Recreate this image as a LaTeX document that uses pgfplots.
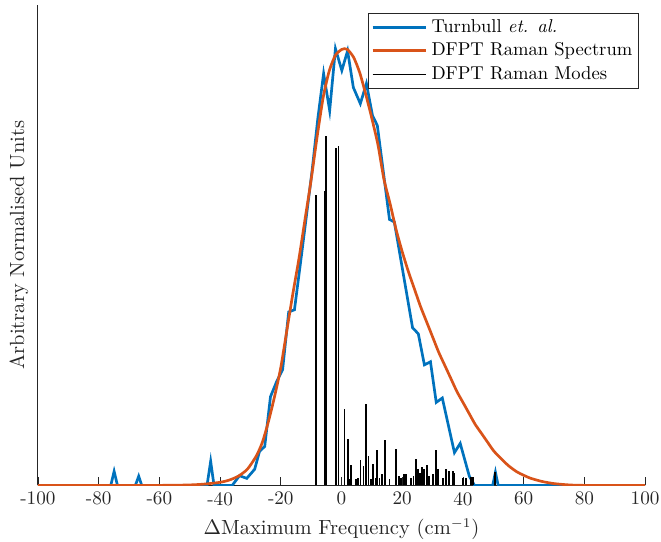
\documentclass[border=0pt]{standalone}
\usepackage{pgfplots}
\pgfplotsset{compat=1.18}
\definecolor{mblue}{rgb}{0,0.447,0.741}
\definecolor{morange}{rgb}{0.85,0.325,0.098}
\definecolor{axgray}{rgb}{0.15,0.15,0.15}
\begin{document}
\begin{tikzpicture}
\begin{axis}[
  at={(0pt,0pt)}, anchor=south west,
  scale only axis,
  width=317pt, height=250.8pt,
  xmin=-100, xmax=100, ymin=0, ymax=1.1,
  axis x line*=bottom, axis y line*=left,
  xtick={-100,-80,...,100}, ytick=\empty,
  xticklabels={-100,-80,-60,-40,-20,0,20,40,60,80,100},
  tick align=inside,
  axis line style={axgray, line width=0.5pt},
  every tick/.style={axgray},
  tick label style={text=axgray},
  xlabel={$\Delta$Maximum Frequency (cm$^{-1}$)},
  ylabel={Arbitrary Normalised Units},
  ylabel style={yshift=1.5pt},
  label style={text=axgray, font=\fontsize{10.7}{13}\selectfont},
  legend style={at={(rel axis cs:0.99,0.984)}, anchor=north east, draw=axgray,
    font=\fontsize{9.7}{11.6}\selectfont, inner sep=1.3pt, row sep=0pt},
  legend cell align=left,
  legend image code/.code={\draw[#1] (0pt,0pt) -- (28pt,0pt);},
]
\addplot[mblue, line width=1.4pt] coordinates {
(-100,0) (-76,0) (-74.9,0.032) (-73.8,0) (-67.9,0) (-66.8,0.021) (-65.8,0)
(-44.3,0) (-43.1,0.055) (-42.0,0) (-36,0) (-33.6,0.022) (-31.2,0.016)
(-28.6,0.037) (-27,0.078) (-25.3,0.089) (-23.4,0.203) (-21.4,0.237)
(-19.4,0.265) (-17.4,0.397) (-15.5,0.402) (-13.5,0.51) (-11.5,0.62)
(-9.7,0.72) (-7.8,0.84) (-5.9,0.943) (-3.9,0.858) (-2,1.0) (0.1,0.95)
(2.0,0.995) (3.9,0.911) (6.2,0.874) (8.2,0.92) (10.2,0.847) (11.8,0.824)
(15.8,0.609) (17.4,0.603) (23.4,0.361) (25.3,0.347) (27.3,0.276)
(29.3,0.283) (31.2,0.19) (33.2,0.20) (37.2,0.075) (39.1,0.096)
(42.1,0.021) (43.8,0) (49.8,0) (50.7,0.03) (51.6,0) (100,0)
};
\addlegendentry{Turnbull \textit{et. al.}}
\addplot[morange, line width=1.4pt, smooth, tension=0.4] coordinates {
(-100,0) (-60,0) (-50,0.001) (-45,0.003) (-40,0.007) (-37,0.012) (-34,0.021)
(-31,0.037) (-28,0.068) (-26,0.10) (-24,0.148) (-22,0.205) (-20,0.27)
(-18,0.355) (-16,0.44) (-14,0.52) (-12,0.61) (-10,0.70) (-8,0.80)
(-6,0.89) (-4,0.95) (-2,0.985) (0,0.998) (1,1.0) (2,0.998) (4,0.98)
(6,0.945) (8,0.895) (10,0.84) (12,0.78) (14,0.70) (16,0.645) (18,0.585)
(20,0.535) (22,0.49) (24,0.45) (26,0.41) (28,0.375) (30,0.34) (32,0.305)
(34,0.275) (36,0.245) (38,0.215) (40,0.19) (42,0.165) (44,0.14) (46,0.12)
(48,0.10) (50,0.08) (52,0.065) (55,0.045) (58,0.03) (62,0.017) (66,0.009)
(70,0.004) (75,0.001) (80,0) (100,0)
};
\addlegendentry{DFPT Raman Spectrum}
\addplot[black, line width=1pt, ycomb, legend image code/.code={\draw[black, line width=0.8pt] (0pt,0pt) -- (28pt,0pt);}] coordinates {
(-8.55,0.664) (-5.6,0.674) (-5.0,0.80) (-1.75,0.772) (-1.0,0.778)
(0.99,0.175) (2.08,0.105) (2.6,0.014) (3.18,0.046) (4.8,0.014) (5.37,0.0175)
(6.25,0.059) (7.24,0.044) (8.1,0.186) (8.9,0.068) (9.8,0.014) (10.5,0.049)
(11.2,0.0175) (11.8,0.082) (12.5,0.0175) (13.2,0.025) (14.4,0.103)
(15.8,0.015) (18.0,0.084) (18.9,0.021) (19.6,0.0175) (20.5,0.025)
(21.3,0.025) (22.9,0.0175) (23.7,0.021) (24.6,0.061) (25.1,0.038)
(25.9,0.029) (26.5,0.043) (27.3,0.037) (28.1,0.046) (28.9,0.021)
(30.0,0.025) (31.1,0.080) (31.7,0.037) (33.3,0.0175) (34.4,0.038)
(35.5,0.033) (36.6,0.033) (37.2,0.029) (39.9,0.0175) (41.0,0.0175)
(42.7,0.02) (43.2,0.02) (50.7,0.03)
};
\addlegendentry{DFPT Raman Modes}
\end{axis}
\pgfresetboundingbox
\useasboundingbox (-19.8pt,-29.2pt) rectangle (325.3pt,253.4pt);
\end{tikzpicture}
\end{document}
